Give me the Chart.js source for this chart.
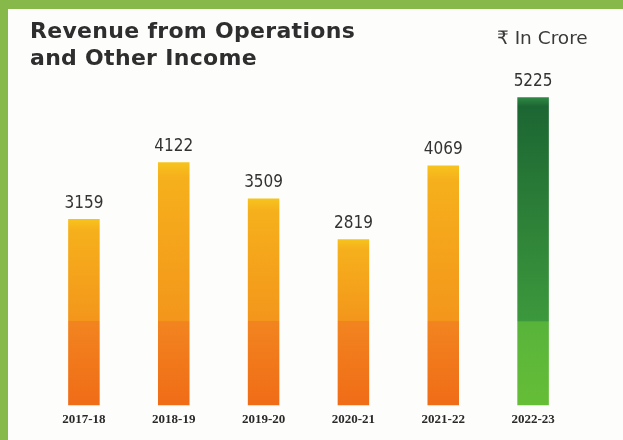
<!DOCTYPE html>
<html>
<head>
<meta charset="utf-8">
<script src="https://cdn.jsdelivr.net/npm/chart.js@4.4.0/dist/chart.umd.min.js"></script>
<style>
  html,body{margin:0;padding:0;background:#fdfefb;}
  #wrap{position:relative;width:623px;height:440px;overflow:hidden;background:#fdfefb;}
  #topband{position:absolute;left:0;top:0;width:623px;height:9px;background:#86b84a;}
  #leftband{position:absolute;left:0;top:0;width:8px;height:440px;background:#86b84a;}
  #title{position:absolute;left:30px;top:17px;font-family:"DejaVu Sans","DejaVu Sans Condensed",sans-serif;font-weight:bold;font-size:22px;line-height:27px;color:#2e2e2e;letter-spacing:0.3px;}
  #unit{position:absolute;left:497px;top:27px;font-family:"DejaVu Sans",sans-serif;font-size:18.5px;color:#3a3a3a;}
  canvas{position:absolute;left:0;top:0;}
</style>
</head>
<body>
<div id="wrap">
  <canvas id="c" width="623" height="440"></canvas>
  <div id="topband"></div>
  <div id="leftband"></div>
  <div id="title">Revenue from Operations<br>and Other Income</div>
  <div id="unit">₹ In Crore</div>
</div>
<script>
const categories = ["2017-18","2018-19","2019-20","2020-21","2021-22","2022-23"];
const revenue = [3159, 4122, 3509, 2819, 4069, 5225];
const highlightIndex = 5;

function barFill(ctx){
  const chart = ctx.chart;
  const area = chart.chartArea;
  if(!area) return '#f39719';
  const y = chart.scales.y;
  const v = revenue[ctx.dataIndex];
  const top = y.getPixelForValue(v);
  const bottom = y.getPixelForValue(0);
  const step = y.getPixelForValue(1440);
  const g = chart.ctx.createLinearGradient(0, top, 0, bottom);
  const h = bottom - top;
  const s = Math.min(0.99, Math.max(0.01, (step - top)/h));
  if(ctx.dataIndex === highlightIndex){
    g.addColorStop(0, '#2f8a45');
    g.addColorStop(0.03, '#1c6633');
    g.addColorStop(s, '#3c983c');
    g.addColorStop(Math.min(1,s+0.005), '#58b33b');
    g.addColorStop(1, '#66be36');
  } else {
    g.addColorStop(0, '#f6c41e');
    g.addColorStop(Math.min(0.06, s/2), '#f6b01c');
    g.addColorStop(s, '#f3961b');
    g.addColorStop(Math.min(1,s+0.005), '#f2841f');
    g.addColorStop(1, '#f06c17');
  }
  return g;
}

const valueLabels = {
  id:'valueLabels',
  afterDatasetsDraw(chart){
    const c = chart.ctx;
    const meta = chart.getDatasetMeta(0);
    c.save();
    c.font = '17px "DejaVu Sans Condensed","DejaVu Sans",sans-serif';
    c.fillStyle = '#333333';
    c.textAlign = 'center';
    c.textBaseline = 'bottom';
    meta.data.forEach((bar,i)=>{
      c.fillText(String(revenue[i]), bar.x, bar.y - 7);
    });
    c.restore();
  }
};

new Chart(document.getElementById('c'), {
  type:'bar',
  data:{
    labels:categories,
    datasets:[{
      data:revenue,
      backgroundColor:barFill,
      borderWidth:0,
      barPercentage:0.9,
      categoryPercentage:0.39
    }]
  },
  options:{
    responsive:false,
    animation:false,
    events:[],
    layout:{padding:{left:39,right:45,top:81,bottom:7}},
    plugins:{legend:{display:false},tooltip:{enabled:false},title:{display:false}},
    scales:{
      x:{
        grid:{display:false,drawTicks:false},
        border:{display:false},
        ticks:{
          color:'#2a2a2a',
          padding:6,
          font:{family:'"Liberation Serif", serif',weight:'bold',size:13}
        }
      },
      y:{display:false,beginAtZero:true,min:0,max:5500}
    }
  },
  plugins:[valueLabels]
});
</script>
</body>
</html>
